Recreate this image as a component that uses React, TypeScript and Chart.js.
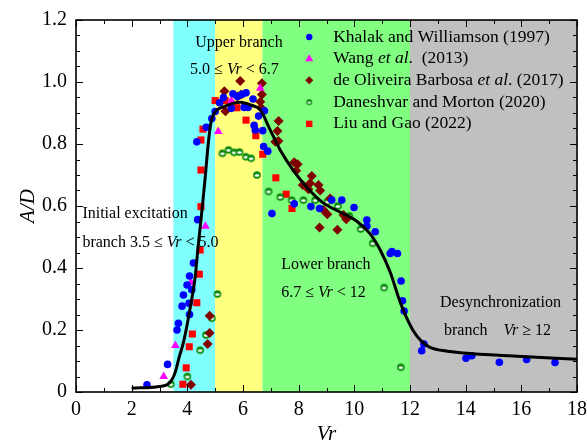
import React, { useEffect, useRef } from 'react';
import { Chart, registerables } from 'chart.js';

Chart.register(...registerables);

const FONT = '"Liberation Serif", "Times New Roman", serif';

// Axis ranges / ticks
const xTickStep = 2;
const yTickStep = 0.2;
const xRange = [0, 18];
const yRange = [0, 1.2];

// Background regions (Vr bounds) and colours
const regionStarts = [3.5, 5.0, 6.7, 12];
const regionEnds = [5.0, 6.7, 12, 18];
const regionColors = ['rgb(128,255,255)', 'rgb(255,255,128)', 'rgb(128,255,128)', 'rgb(192,192,192)'];

// Fitted curve
const curveVr = [2.0, 3.0, 3.3, 3.45, 3.57, 3.7, 3.86, 4.0, 4.1, 4.28, 4.4, 4.53, 4.64, 4.75, 4.85, 4.97, 5.3, 5.9, 6.3, 6.62, 6.98, 7.34, 7.8, 8.3, 8.88, 9.5, 10.1, 10.57, 10.93, 11.3, 11.57, 11.76, 12.1, 12.4, 12.7, 13.3, 13.9, 15.7, 18];
const curveAD = [0.012, 0.018, 0.025, 0.04, 0.065, 0.11, 0.16, 0.22, 0.27, 0.37, 0.48, 0.59, 0.69, 0.8, 0.87, 0.9, 0.92, 0.935, 0.925, 0.91, 0.845, 0.78, 0.716, 0.66, 0.61, 0.58, 0.55, 0.51, 0.458, 0.384, 0.31, 0.264, 0.2, 0.165, 0.145, 0.132, 0.126, 0.116, 0.106];

// Khalak and Williamson (1997)
const khalakVr = [2.55, 3.29, 3.63, 3.68, 3.81, 3.86, 3.99, 4.06, 4.08, 4.08, 4.16, 4.22, 4.37, 4.34, 4.68, 4.88, 5.0, 5.16, 5.3, 5.58, 5.64, 5.8, 5.96, 6.11, 6.04, 6.18, 6.36, 6.56, 6.77, 6.44, 6.4, 6.71, 6.74, 6.89, 7.04, 7.84, 8.44, 8.75, 9.19, 9.55, 9.99, 10.45, 10.45, 10.75, 11.29, 11.35, 11.55, 11.68, 11.73, 11.79, 12.42, 12.5, 14.01, 14.22, 15.21, 16.19, 17.21];
const khalakAD = [0.023, 0.089, 0.2, 0.222, 0.277, 0.313, 0.345, 0.286, 0.25, 0.374, 0.33, 0.416, 0.556, 0.807, 0.854, 0.882, 0.905, 0.933, 0.95, 0.915, 0.962, 0.953, 0.96, 0.965, 0.918, 0.918, 0.945, 0.89, 0.907, 0.845, 0.86, 0.843, 0.792, 0.777, 0.576, 0.607, 0.598, 0.592, 0.619, 0.619, 0.595, 0.555, 0.535, 0.517, 0.447, 0.453, 0.447, 0.358, 0.294, 0.261, 0.133, 0.155, 0.109, 0.117, 0.096, 0.105, 0.095];

// Wang et al. (2013)
const wangVr = [3.15, 3.57, 4.13, 4.65, 5.11, 5.58, 6.62];
const wangAD = [0.05, 0.15, 0.353, 0.535, 0.84, 0.94, 0.98];

// de Oliveira Barbosa et al. (2017)
const barbosaVr = [4.13, 4.73, 4.8, 4.8, 5.33, 5.37, 5.8, 5.9, 5.94, 6.62, 6.65, 6.68, 6.68, 7.16, 7.24, 7.27, 7.28, 7.84, 7.96, 7.91, 8.15, 8.35, 8.41, 8.47, 8.71, 8.77, 8.89, 9.03, 9.13, 9.39, 8.75, 9.61, 9.71];
const barbosaAD = [0.023, 0.155, 0.19, 0.246, 0.97, 0.906, 0.953, 1.003, 0.96, 0.936, 0.917, 0.96, 0.996, 0.807, 0.842, 0.81, 0.874, 0.741, 0.735, 0.714, 0.668, 0.654, 0.673, 0.697, 0.668, 0.65, 0.587, 0.573, 0.624, 0.523, 0.531, 0.571, 0.557];

// Daneshvar and Morton (2020)
const daneshvarVr = [3.41, 4.0, 4.46, 4.67, 4.88, 5.08, 5.26, 5.48, 5.68, 5.87, 6.1, 6.29, 6.5, 6.92, 7.34, 7.75, 8.17, 8.59, 9.03, 9.41, 9.82, 10.23, 10.66, 11.07, 11.67];
const daneshvarAD = [0.025, 0.05, 0.135, 0.184, 0.238, 0.316, 0.77, 0.781, 0.773, 0.774, 0.759, 0.754, 0.7, 0.647, 0.629, 0.619, 0.619, 0.619, 0.614, 0.6, 0.568, 0.526, 0.48, 0.337, 0.08];

// Liu and Gao (2022)
const liuVr = [3.84, 3.96, 4.07, 4.18, 4.34, 4.43, 4.46, 4.49, 4.49, 4.49, 4.56, 5.0, 5.36, 5.78, 6.11, 6.46, 6.71, 7.18, 7.55, 7.76];
const liuAD = [0.025, 0.078, 0.146, 0.187, 0.288, 0.38, 0.458, 0.598, 0.716, 0.813, 0.848, 0.94, 0.94, 0.917, 0.877, 0.827, 0.767, 0.691, 0.638, 0.592];

const seriesNames = ['Khalak and Williamson (1997)', 'Wang et al. (2013)', 'de Oliveira Barbosa et al. (2017)', 'Daneshvar and Morton (2020)', 'Liu and Gao (2022)'];

const pts = (xs: number[], ys: number[]) => xs.map((x, i) => ({ x, y: ys[i] }));

function makeHalfMarker(r: number): HTMLCanvasElement {
  const size = Math.ceil(r * 2 + 2);
  const c = document.createElement('canvas');
  c.width = size;
  c.height = size;
  const g = c.getContext('2d')!;
  const cx = size / 2;
  g.fillStyle = '#0a8a0a';
  g.beginPath();
  g.arc(cx, cx, r, 0, Math.PI * 2);
  g.fill();
  g.fillStyle = '#ffffff';
  g.beginPath();
  g.ellipse(cx, cx + r * 0.15, r * 0.62, r * 0.33, 0, 0, Math.PI * 2);
  g.fill();
  return c;
}

type Run = [string, boolean];

function drawRuns(ctx: CanvasRenderingContext2D, runs: Run[], x: number, y: number, size: number) {
  let cx = x;
  ctx.textAlign = 'left';
  ctx.textBaseline = 'middle';
  ctx.fillStyle = '#000';
  for (const [t, it] of runs) {
    ctx.font = `${it ? 'italic ' : ''}${size}px ${FONT}`;
    ctx.fillText(t, cx, y);
    cx += ctx.measureText(t).width;
  }
}

// Annotation anchors (data coordinates: Vr, A/D)
const notes: { vr: number; ad: number; runs: Run[] }[] = [
  { vr: 4.28, ad: 1.126, runs: [['Upper branch', false]] },
  { vr: 4.1, ad: 1.039, runs: [['5.0 ≤ ', false], ['Vr', true], [' < 6.7', false]] },
  { vr: 0.23, ad: 0.574, runs: [['Initial excitation', false]] },
  { vr: 0.23, ad: 0.481, runs: [['branch 3.5 ≤ ', false], ['Vr', true], [' < 5.0', false]] },
  { vr: 7.37, ad: 0.41, runs: [['Lower branch', false]] },
  { vr: 7.37, ad: 0.319, runs: [['6.7 ≤ ', false], ['Vr', true], [' < 12', false]] },
  { vr: 13.08, ad: 0.287, runs: [['Desynchronization', false]] },
  { vr: 13.22, ad: 0.197, runs: [['branch    ', false], ['Vr', true], [' ≥ 12', false]] },
];

const legendRuns: Run[][] = [
  [['Khalak and Williamson (1997)', false]],
  [['Wang ', false], ['et al', true], ['.  (2013)', false]],
  [['de Oliveira Barbosa ', false], ['et al', true], ['. (2017)', false]],
  [['Daneshvar and Morton (2020)', false]],
  [['Liu and Gao (2022)', false]],
];

export default function App() {
  const ref = useRef<HTMLCanvasElement | null>(null);

  useEffect(() => {
    if (!ref.current) return;
    const greenMarker = makeHalfMarker(3.8);
    const greenLegend = makeHalfMarker(3.0);

    const bgPlugin = {
      id: 'regions',
      beforeDatasetsDraw(chart: any) {
        const { ctx, chartArea, scales } = chart;
        ctx.save();
        regionStarts.forEach((a, i) => {
          const x0 = scales.x.getPixelForValue(a);
          const x1 = scales.x.getPixelForValue(regionEnds[i]);
          ctx.fillStyle = regionColors[i];
          ctx.fillRect(x0, chartArea.top, x1 - x0, chartArea.bottom - chartArea.top);
        });
        ctx.restore();
      },
    };

    const decoPlugin = {
      id: 'deco',
      afterDraw(chart: any) {
        const { ctx, chartArea: a, scales } = chart;
        const xs = scales.x;
        const ys = scales.y;
        ctx.save();
        // ticks inward on all four sides
        ctx.strokeStyle = '#000';
        ctx.lineWidth = 1;
        ctx.beginPath();
        for (let v = xRange[0]; v <= xRange[1] + 1e-9; v += 1) {
          const px = Math.round(xs.getPixelForValue(v)) + 0.5;
          const len = Math.abs(v % xTickStep) < 1e-9 ? 7 : 4;
          ctx.moveTo(px, a.bottom);
          ctx.lineTo(px, a.bottom - len);
          ctx.moveTo(px, a.top);
          ctx.lineTo(px, a.top + len);
        }
        for (let k = 0; k <= 24; k++) {
          const v = k * 0.05;
          const py = Math.round(ys.getPixelForValue(v)) + 0.5;
          const len = k % 4 === 0 ? 7 : 4;
          ctx.moveTo(a.left, py);
          ctx.lineTo(a.left + len, py);
          ctx.moveTo(a.right, py);
          ctx.lineTo(a.right - len, py);
        }
        ctx.stroke();
        // frame
        ctx.lineWidth = 1.6;
        ctx.strokeRect(a.left, a.top, a.right - a.left, a.bottom - a.top);

        // annotations
        notes.forEach((n) => {
          drawRuns(ctx, n.runs, xs.getPixelForValue(n.vr), ys.getPixelForValue(n.ad), 16);
        });

        // legend
        const lx = xs.getPixelForValue(8.38);
        const tx = xs.getPixelForValue(9.24);
        const rowAD = [1.145, 1.077, 1.006, 0.935, 0.865];
        rowAD.forEach((ad, i) => {
          const y = ys.getPixelForValue(ad);
          ctx.beginPath();
          if (i === 0) {
            ctx.fillStyle = '#0000ff';
            ctx.arc(lx, y, 3.2, 0, Math.PI * 2);
            ctx.fill();
          } else if (i === 1) {
            ctx.fillStyle = '#ff00ff';
            ctx.moveTo(lx, y - 4);
            ctx.lineTo(lx + 4, y + 3);
            ctx.lineTo(lx - 4, y + 3);
            ctx.closePath();
            ctx.fill();
          } else if (i === 2) {
            ctx.fillStyle = '#800000';
            ctx.moveTo(lx, y - 4);
            ctx.lineTo(lx + 4, y);
            ctx.lineTo(lx, y + 4);
            ctx.lineTo(lx - 4, y);
            ctx.closePath();
            ctx.fill();
          } else if (i === 3) {
            ctx.drawImage(greenLegend, lx - greenLegend.width / 2, y - greenLegend.height / 2);
          } else {
            ctx.fillStyle = '#ff0000';
            ctx.fillRect(lx - 3.2, y - 3.2, 6.4, 6.4);
          }
          drawRuns(ctx, legendRuns[i], tx, y, 17.5);
        });
        ctx.restore();
      },
    };

    const chart = new Chart(ref.current, {
      type: 'scatter',
      data: {
        datasets: [
          {
            label: 'fit',
            data: pts(curveVr, curveAD),
            showLine: true,
            borderColor: '#000',
            borderWidth: 3,
            pointRadius: 0,
            cubicInterpolationMode: 'monotone',
            fill: false,
          } as any,
          {
            label: seriesNames[0],
            data: pts(khalakVr, khalakAD),
            pointStyle: 'circle',
            pointRadius: 3.8,
            backgroundColor: '#0000ff',
            borderWidth: 0,
          },
          {
            label: seriesNames[1],
            data: pts(wangVr, wangAD),
            pointStyle: 'triangle',
            pointRadius: 5,
            backgroundColor: '#ff00ff',
            borderWidth: 0,
          },
          {
            label: seriesNames[2],
            data: pts(barbosaVr, barbosaAD),
            pointStyle: 'rectRot',
            pointRadius: 5,
            backgroundColor: '#800000',
            borderWidth: 0,
          },
          {
            label: seriesNames[3],
            data: pts(daneshvarVr, daneshvarAD),
            pointStyle: greenMarker,
            pointRadius: 4,
            backgroundColor: '#0a8a0a',
            borderWidth: 0,
          },
          {
            label: seriesNames[4],
            data: pts(liuVr, liuAD),
            pointStyle: 'rect',
            pointRadius: 5,
            backgroundColor: '#ff0000',
            borderWidth: 0,
          },
        ],
      },
      options: {
        animation: false,
        responsive: false,
        maintainAspectRatio: false,
        layout: { padding: { left: 0, right: 10, top: 20, bottom: 0 } },
        plugins: { legend: { display: false }, tooltip: { enabled: false } },
        scales: {
          x: {
            type: 'linear',
            min: xRange[0],
            max: xRange[1],
            ticks: { stepSize: xTickStep, font: { family: FONT, size: 20 }, color: '#000', padding: 6, maxRotation: 0 },
            grid: { display: false, drawTicks: false },
            border: { display: false },
            title: { display: true, text: 'Vr', color: '#000', font: { family: FONT, size: 21, style: 'italic', lineHeight: 1 }, padding: 0 },
            afterFit: (s: any) => { s.height = 53; s.paddingLeft = 0; s.paddingRight = 0; },
          },
          y: {
            type: 'linear',
            min: yRange[0],
            max: yRange[1],
            ticks: {
              stepSize: yTickStep,
              font: { family: FONT, size: 20 },
              color: '#000',
              padding: 9,
              callback: (v: any) => (Math.abs(v) < 1e-9 ? '0' : Number(v).toFixed(1)),
            },
            grid: { display: false, drawTicks: false },
            border: { display: false },
            title: { display: true, text: 'A/D', color: '#000', font: { family: FONT, size: 21, style: 'italic', lineHeight: 1 }, padding: { top: 18, bottom: 0 } },
            afterFit: (s: any) => { s.width = 76; s.paddingTop = 0; s.paddingBottom = 0; },
          },
        },
      },
      plugins: [bgPlugin, decoPlugin],
    } as any);
    return () => chart.destroy();
  }, []);

  return (
    <div style={{ position: 'absolute', left: 0, top: 0, width: 587, height: 445, background: '#fff' }}>
      <canvas ref={ref} width={587} height={445} style={{ width: 587, height: 445, display: 'block' }} />
    </div>
  );
}
